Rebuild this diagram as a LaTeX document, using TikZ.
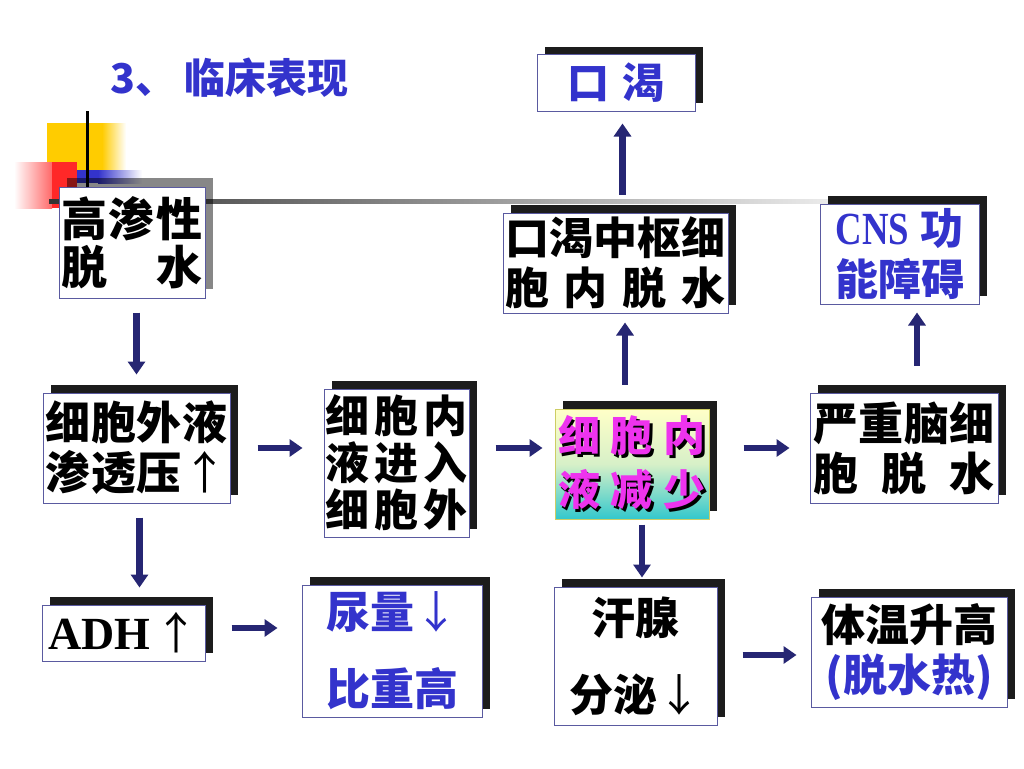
\documentclass[tikz,border=0pt]{standalone}
\usepackage{fontspec}
\usepackage{graphicx}
\setmainfont{Noto Sans CJK SC}
\newfontfamily\tnr{Liberation Serif}
\usetikzlibrary{arrows.meta,shadows}
\definecolor{tblue}{RGB}{51,51,204}
\definecolor{bord}{RGB}{90,90,160}
\definecolor{shadc}{RGB}{28,28,28}
\definecolor{arrc}{RGB}{38,38,115}
\definecolor{mag}{RGB}{238,51,238}
\definecolor{yel}{RGB}{255,204,0}
\definecolor{redd}{RGB}{255,40,40}
\newcommand\spreadline[2]{\hbox to #1{#2}}
\newcommand\shadline[1]{\hbox{\rlap{\kern2.5pt\lower2.5pt\hbox{\color{black}\spreadline{148pt}{#1}}}\color{mag}\spreadline{148pt}{#1}}}
\begin{document}
\begin{tikzpicture}[x=1pt,y=-1pt,
  boxbase/.style={draw=bord, line width=1pt, fill=white, inner sep=0pt, align=center},
  box/.style={boxbase, drop shadow={shadow xshift=8pt,shadow yshift=8pt,fill=shadc,opacity=1}},
  gbox/.style={boxbase, drop shadow={shadow xshift=8pt,shadow yshift=9pt,fill=black,opacity=0.47}},
  arr/.style={draw=arrc, line width=6.5pt, -{Triangle[length=13pt,width=17pt]}},
]
\useasboundingbox (0,0) rectangle (1024,768);
\fill[white] (0,0) rectangle (1024,768);

% title
\node[text=tblue, font={\fontsize{41}{44}\selectfont\bfseries}, anchor=west, inner sep=0pt] (title) at (110,78) {3、\hspace{8pt}临床表现};

% decoration
\fill[yel] (47,123) rectangle (102,180);
\shade[left color=yel, right color=white] (102,123) rectangle (126,180);
\shade[left color=white, right color=redd!70] (14,162) rectangle (52,208);
\fill[redd] (52,162) rectangle (77,208);
\fill[tblue] (77,170) rectangle (98,183);
\shade[left color=tblue, right color=white] (98,170) rectangle (142,183);
\shade[left color=black!80, right color=black!8] (49,199.5) rectangle (830,203.5);

% nodes
\node[gbox, minimum width=146pt, minimum height=111pt, font={\fontsize{46}{48}\selectfont\bfseries}] (gaoshen) at (132,242.5)
  {\spreadline{141pt}{高\hfil 渗\hfil 性}\\\spreadline{141pt}{脱\hfil 水}};
\coordinate (vtop) at (87,111);
\draw[line width=3pt, black] (vtop) -- (vtop |- gaoshen.north);

\node[box, minimum width=187pt, minimum height=110pt, font={\fontsize{45}{50}\selectfont\bfseries}] (xiwai) at (136.5,448)
  {\spreadline{182pt}{细\hfil 胞\hfil 外\hfil 液}\\\spreadline{182pt}{渗\hfil 透\hfil 压\hfil {\mdseries ↑}}};

\node[box, minimum width=145pt, minimum height=148pt, font={\fontsize{44}{47}\selectfont\bfseries}] (xinei) at (396.5,463)
  {\spreadline{142pt}{细\hfil 胞\hfil 内}\\\spreadline{142pt}{液\hfil 进\hfil 入}\\\spreadline{142pt}{细\hfil 胞\hfil 外}};

\node[box, draw={rgb,255:red,205;green,205;blue,100}, minimum width=154pt, minimum height=110pt,
  top color={rgb,255:red,255;green,255;blue,200}, bottom color={rgb,255:red,51;green,200;blue,204},
  middle color={rgb,255:red,215;green,240;blue,200}, font={\fontsize{42}{54}\selectfont\bfseries}] (shao) at (632,464)
  {\shadline{细\hfil 胞\hfil 内}\\\shadline{液\hfil 减\hfil 少}};

\node[box, minimum width=188pt, minimum height=110pt, font={\fontsize{45}{50}\selectfont\bfseries}] (naoxi) at (904,448)
  {\spreadline{182pt}{严\hfil 重\hfil 脑\hfil 细}\\\spreadline{182pt}{胞\hfil 脱\hfil 水}};

\node[box, minimum width=159pt, minimum height=100pt, text=tblue, font={\fontsize{43}{51}\selectfont\bfseries}] (cns) at (899.5,254)
  {\spreadline{128pt}{\scalebox{0.8}[1]{\tnr\fontsize{46}{46}\selectfont CNS}\hfil 功}\\能障碍};

\node[box, minimum width=158pt, minimum height=56pt, text=tblue, font={\fontsize{42}{44}\selectfont\bfseries}] (kouke) at (616,83)
  {口\hspace{14pt}渴};

\node[box, minimum width=225pt, minimum height=100pt, font={\fontsize{44}{50}\selectfont\bfseries}] (zhongshu) at (615.5,263)
  {\spreadline{221pt}{口\hfil 渴\hfil 中\hfil 枢\hfil 细}\\\spreadline{221pt}{胞\hfil 内\hfil 脱\hfil 水}};

\node[box, minimum width=163pt, minimum height=56pt, font={\fontsize{44}{46}\selectfont}] (adh) at (123.5,633)
  {{\tnr\bfseries\fontsize{46}{46}\selectfont ADH}\hspace{4pt}↑};

\node[box, minimum width=180pt, minimum height=132pt, text=tblue, font={\fontsize{44}{77}\selectfont\bfseries}] (niao) at (392,651)
  {尿量{\mdseries ↓}\\比重高};

\node[box, minimum width=163pt, minimum height=138pt, font={\fontsize{44}{77}\selectfont\bfseries}] (hanxian) at (635.5,656)
  {汗腺\\分泌{\mdseries ↓}};

\node[box, minimum width=196pt, minimum height=110pt, font={\fontsize{44}{50}\selectfont\bfseries}] (tiwen) at (909,652)
  {体温升高\\\textcolor{tblue}{(脱水热)}};

% arrows
\draw[arr, shorten <=14pt, shorten >=18pt] (gaoshen.south -| xiwai.north) -- (xiwai.north);
\draw[arr, shorten <=27pt, shorten >=21pt] (xiwai.east) -- (xiwai.east -| xinei.west);
\draw[arr, shorten <=26pt, shorten >=12pt] (xinei.east |- naoxi.west) -- (shao.west |- naoxi.west);
\draw[arr, shorten <=34pt, shorten >=20pt] (shao.east |- naoxi.west) -- (naoxi.west);
\draw[arr, shorten <=27pt, shorten >=8pt] ([xshift=13pt]naoxi.north) -- ([xshift=13pt]naoxi.north |- cns.south);
\draw[arr, shorten <=24pt, shorten >=9pt] ([xshift=-7pt]shao.north) -- ([xshift=-7pt]shao.north |- zhongshu.south);
\draw[arr, shorten <=18pt, shorten >=12pt] ([xshift=7pt]zhongshu.north) -- ([xshift=7pt]zhongshu.north |- kouke.south);
\draw[arr, shorten <=5pt, shorten >=9pt] ([xshift=10pt]shao.south) -- ([xshift=10pt]shao.south |- hanxian.north);
\draw[arr, shorten <=14pt, shorten >=17pt] ([xshift=3pt]xiwai.south) -- ([xshift=3pt]xiwai.south |- adh.north);
\draw[arr, shorten <=26pt, shorten >=24pt] ([yshift=5pt]adh.east) -- ([yshift=5pt]adh.east -| niao.west);
\draw[arr, shorten <=25pt, shorten >=14pt] ([yshift=1pt]hanxian.east) -- ([yshift=1pt]hanxian.east -| tiwen.west);
\end{tikzpicture}
\end{document}
